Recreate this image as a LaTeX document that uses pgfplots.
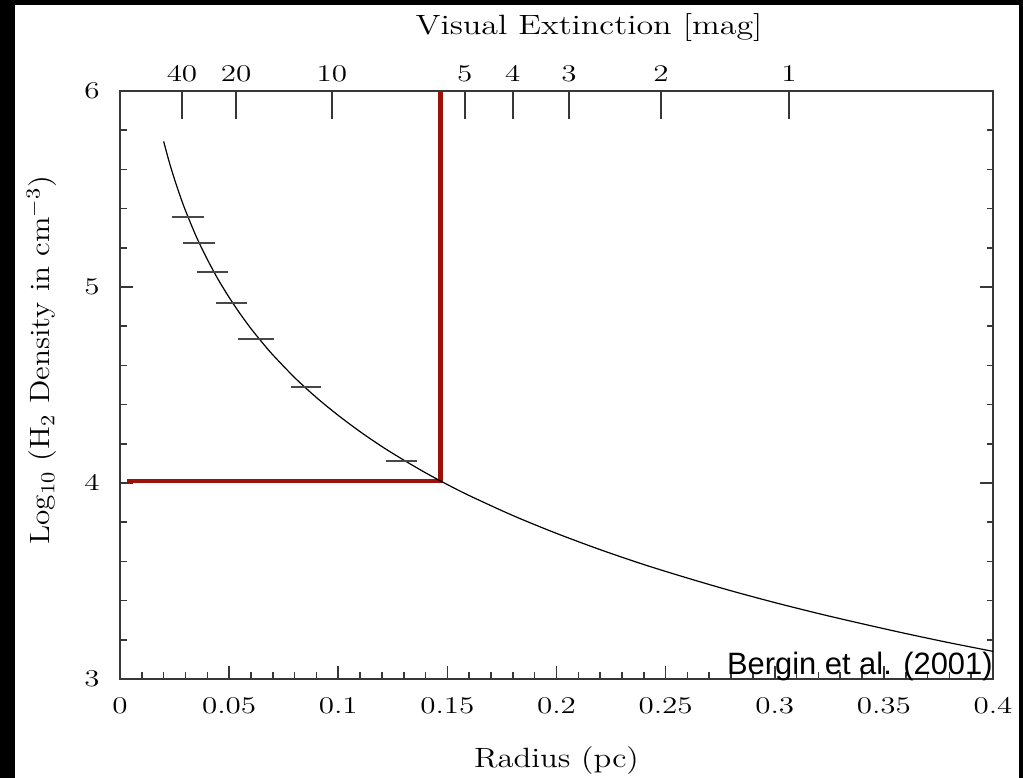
\documentclass[border=0pt]{standalone}
\usepackage{pgfplots}
\pgfplotsset{compat=1.18}
\usepackage{graphicx}
\usepackage{fontspec}
\newfontfamily\arial{Liberation Sans}
\definecolor{redline}{RGB}{155,18,8}
\definecolor{axgray}{RGB}{55,55,55}
\newcommand{\tl}[1]{\scalebox{1.3}[1]{#1}}
\newcommand{\al}[1]{\scalebox{1.12}[1]{#1}}
\begin{document}
\begin{tikzpicture}
\fill[black] (0,0) rectangle (511.5bp,389bp);
\fill[white] (7.5bp,0) rectangle (509.5bp,386.5bp);
\path[use as bounding box] (0,0) rectangle (511.5bp,389bp);
\begin{axis}[
  at={(60bp,49.5bp)}, anchor=south west, scale only axis,
  width=436.5bp, height=294bp,
  xmin=0, xmax=0.4, ymin=3, ymax=6,
  xtick={0,0.05,0.1,0.15,0.2,0.25,0.3,0.35,0.4},
  xticklabels={\tl{$0$},\tl{$0.05$},\tl{$0.1$},\tl{$0.15$},\tl{$0.2$},\tl{$0.25$},\tl{$0.3$},\tl{$0.35$},\tl{$0.4$}},
  minor x tick num=4,
  ytick={3,4,5,6},
  yticklabels={\tl{$3$},\tl{$4$},\tl{$5$},\tl{$6$}},
  minor y tick num=4,
  xtick pos=left, ytick pos=both, tick align=inside,
  major tick length=6.5bp, minor tick length=3.25bp,
  axis line style={axgray, line width=0.8bp},
  every tick/.style={axgray, line width=0.8bp},
  every minor tick/.style={axgray, line width=0.8bp},
  xticklabel style={font=\fontsize{12}{13}\selectfont, inner sep=0pt, anchor=north, yshift=-9.5bp},
  yticklabel style={font=\fontsize{12}{13}\selectfont, inner sep=0pt, anchor=east, xshift=-10bp},
  xlabel={\scalebox{1.17}[1]{Radius (pc)}},
  xlabel style={font=\fontsize{14}{16}\selectfont, at={(axis description cs:0.5,-0.1497)}, anchor=base, inner sep=0pt},
  ylabel={\al{Log$_{10}$ (H$_2$ Density in cm$^{-3}$)}},
  ylabel style={font=\fontsize{14}{16}\selectfont, at={(axis description cs:-0.0802,0.5425)}, anchor=base, inner sep=0pt},
]
\addplot[redline, line width=2.4bp, line join=miter, line cap=butt] coordinates {(0.003,4.01) (0.147,4.01) (0.147,6)};
\addplot[black, line width=0.6bp, smooth] coordinates {
(0.020,5.743) (0.0225,5.640) (0.025,5.549) (0.0275,5.466) (0.030,5.390) (0.035,5.256)
(0.040,5.141) (0.045,5.038) (0.050,4.947) (0.055,4.864) (0.060,4.788) (0.065,4.719)
(0.070,4.654) (0.080,4.538) (0.090,4.436) (0.100,4.345) (0.110,4.262) (0.120,4.186)
(0.130,4.117) (0.140,4.052) (0.150,3.992) (0.160,3.936) (0.180,3.834) (0.200,3.743)
(0.220,3.660) (0.240,3.584) (0.260,3.515) (0.280,3.450) (0.300,3.390) (0.320,3.334)
(0.340,3.282) (0.360,3.232) (0.380,3.185) (0.400,3.141)};
\addplot[draw=none, mark=none, forget plot,
  error bars/.cd, x dir=both, x explicit, error mark=none,
  error bar style={draw=black!72, line width=0.9bp}] coordinates {
(0.0312,5.357) +- (0.0073,0)
(0.0362,5.224) +- (0.0073,0)
(0.0424,5.077) +- (0.0071,0)
(0.0511,4.918) +- (0.0071,0)
(0.0623,4.735) +- (0.0082,0)
(0.0852,4.490) +- (0.0069,0)
(0.1290,4.112) +- (0.0071,0)};
\end{axis}
\begin{axis}[
  at={(60bp,49.5bp)}, anchor=south west, scale only axis,
  width=436.5bp, height=294bp,
  xmin=0, xmax=0.4, ymin=3, ymax=6,
  axis x line*=top, axis y line=none,
  xtick={0.0284,0.0532,0.0971,0.158,0.180,0.2057,0.2479,0.3065},
  xticklabels={\tl{$40$},\tl{$20$},\tl{$10$},\tl{$5$},\tl{$4$},\tl{$3$},\tl{$2$},\tl{$1$}},
  minor x tick num=0,
  tick align=inside, major tick length=14bp,
  axis line style={axgray, line width=0.8bp},
  every tick/.style={axgray, line width=0.8bp},
  xticklabel style={font=\fontsize{12}{13}\selectfont, inner sep=0pt, anchor=south, yshift=4.5bp},
]
\addplot[draw=none, forget plot] coordinates {(0.1,4) (0.2,5)};
\end{axis}
\node[anchor=base, inner sep=0pt, font=\fontsize{14}{16}\selectfont] at (294.5bp,371.5bp) {\scalebox{1.22}[1]{Visual Extinction [mag]}};
\node[anchor=base east, inner sep=0pt, font=\arial\fontsize{15.5}{17}\selectfont] at (496.5bp,51.5bp) {Bergin et al. (2001)};
\end{tikzpicture}
\end{document}
